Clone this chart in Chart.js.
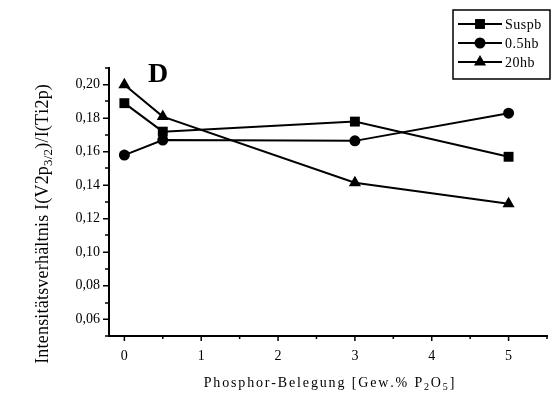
<!DOCTYPE html>
<html>
<head>
<meta charset="utf-8">
<script src="https://cdn.jsdelivr.net/npm/chart.js@4/dist/chart.umd.min.js"></script>
<style>
  html, body { margin: 0; padding: 0; background: #fff; }
  canvas { display: block; }
</style>
</head>
<body>
<canvas id="xpsChart" width="554" height="398"></canvas>
<script>
// P2O5 loading (wt.%) and V2p3/2 / Ti2p intensity ratios
const loadings = [0, 0.5, 3, 5];
const suspb = [0.189, 0.172, 0.178, 0.157];
const hb05 = [0.158, 0.167, 0.1665, 0.183];
const hb20 = [0.200, 0.181, 0.1415, 0.129];
const seriesNames = ['Suspb', '0.5hb', '20hb'];
const xTicks = [0, 1, 2, 3, 4, 5];
const yTicks = [0.06, 0.08, 0.10, 0.12, 0.14, 0.16, 0.18, 0.20];

const SERIF = '"Liberation Serif", "Times New Roman", serif';
const markerStyles = ['rect', 'circle', 'triangle'];
const markerRadius = [7, 5.5, 7];

function toPoints(values) {
  return loadings.map((x, i) => ({ x: x, y: values[i] }));
}

// draw a string made of normal and subscript pieces, centred on x
function drawRich(ctx, parts, x, y, size, spacing) {
  const pieces = parts.map(p => {
    const fs = p.sub ? Math.round(size * 0.7) : size;
    ctx.font = fs + 'px ' + SERIF;
    let w = 0;
    for (const ch of p.t) w += ctx.measureText(ch).width + spacing;
    return { t: p.t, fs: fs, w: w, dy: p.sub ? size * 0.32 : 0 };
  });
  const total = pieces.reduce((s, p) => s + p.w, 0) - spacing;
  let cx = x - total / 2;
  ctx.textAlign = 'left';
  ctx.textBaseline = 'middle';
  pieces.forEach(p => {
    ctx.font = p.fs + 'px ' + SERIF;
    for (const ch of p.t) {
      ctx.fillText(ch, cx, y + p.dy);
      cx += ctx.measureText(ch).width + spacing;
    }
  });
}

function drawMarker(ctx, style, r, x, y) {
  ctx.beginPath();
  if (style === 'rect') {
    const s = r * Math.SQRT1_2;
    ctx.rect(x - s, y - s, 2 * s, 2 * s);
  } else if (style === 'circle') {
    ctx.arc(x, y, r, 0, Math.PI * 2);
  } else {
    ctx.moveTo(x, y - r);
    ctx.lineTo(x + r * Math.sin(Math.PI * 2 / 3), y + r * 0.5);
    ctx.lineTo(x - r * Math.sin(Math.PI * 2 / 3), y + r * 0.5);
    ctx.closePath();
  }
  ctx.fill();
}

// major and minor tick marks pointing outwards on both axes
const tickMarks = {
  id: 'tickMarks',
  afterDraw(chart) {
    const ctx = chart.ctx;
    const xs = chart.scales.x, ys = chart.scales.y;
    ctx.save();
    ctx.strokeStyle = '#000';
    ctx.lineWidth = 1.5;
    ctx.beginPath();
    yTicks.forEach(v => {
      const py = ys.getPixelForValue(v);
      ctx.moveTo(xs.left - 6, py); ctx.lineTo(xs.left, py);
    });
    const yStep = yTicks[1] - yTicks[0];
    for (let v = yTicks[0] - yStep / 2; v <= ys.max + 1e-9; v += yStep) {
      const py = Math.round(ys.getPixelForValue(v));
      ctx.moveTo(xs.left - 4, py); ctx.lineTo(xs.left, py);
    }
    xTicks.forEach(v => {
      const px = xs.getPixelForValue(v);
      ctx.moveTo(px, ys.bottom); ctx.lineTo(px, ys.bottom + 5);
    });
    const xStep = xTicks[1] - xTicks[0];
    for (let v = xTicks[0] + xStep / 2; v <= xs.max + 1e-9; v += xStep) {
      const px = xs.getPixelForValue(v);
      ctx.moveTo(px, ys.bottom); ctx.lineTo(px, ys.bottom + 3);
    }
    ctx.stroke();
    ctx.restore();
  }
};

// axis titles with subscripts, panel letter and boxed legend
const decorations = {
  id: 'decorations',
  afterDraw(chart) {
    const ctx = chart.ctx;
    const area = chart.chartArea;
    ctx.save();
    ctx.fillStyle = '#000';

    drawRich(ctx, [
      { t: 'Phosphor-Belegung [Gew.% P' }, { t: '2', sub: true },
      { t: 'O' }, { t: '5', sub: true }, { t: ']' }
    ], (area.left + area.right) / 2 + 1, 383, 14, 1.85);

    ctx.save();
    ctx.translate(43, 224);
    ctx.rotate(-Math.PI / 2);
    drawRich(ctx, [
      { t: 'Intensitätsverhältnis I(V2p' }, { t: '3/2', sub: true },
      { t: ')/I(Ti2p)' }
    ], 0, 0, 18, 0.2);
    ctx.restore();

    ctx.font = 'bold 28px ' + SERIF;
    ctx.textAlign = 'left';
    ctx.textBaseline = 'alphabetic';
    ctx.fillText('D', 148, 82);

    // legend
    ctx.strokeStyle = '#000';
    ctx.lineWidth = 1.5;
    ctx.strokeRect(453, 10, 97, 69);
    seriesNames.forEach((name, i) => {
      const y = 24 + i * 19;
      ctx.lineWidth = 2;
      ctx.beginPath();
      ctx.moveTo(458, y); ctx.lineTo(502, y);
      ctx.stroke();
      drawMarker(ctx, markerStyles[i], markerRadius[i], 480, y);
      ctx.font = '14px ' + SERIF;
      ctx.textBaseline = 'middle';
      let cx = 505;
      for (const ch of name) {
        ctx.fillText(ch, cx, y + 1);
        cx += ctx.measureText(ch).width + 0.5;
      }
    });
    ctx.restore();
  }
};

function makeSet(label, values, i) {
  return {
    label: label,
    data: toPoints(values),
    showLine: true,
    borderColor: '#000',
    borderWidth: 2,
    backgroundColor: '#000',
    pointBackgroundColor: '#000',
    pointBorderColor: '#000',
    pointBorderWidth: 0,
    pointStyle: markerStyles[i],
    pointRadius: markerRadius[i],
    tension: 0,
    clip: false
  };
}

const ctx = document.getElementById('xpsChart').getContext('2d');
const xpsChart = new Chart(ctx, {
  type: 'scatter',
  data: {
    datasets: [
      makeSet(seriesNames[0], suspb, 0),
      makeSet(seriesNames[1], hb05, 1),
      makeSet(seriesNames[2], hb20, 2)
    ]
  },
  options: {
    responsive: false,
    animation: false,
    devicePixelRatio: 1,
    layout: { padding: { top: 68, left: 0, right: 0, bottom: 0 } },
    plugins: { legend: { display: false }, tooltip: { enabled: false } },
    scales: {
      x: {
        type: 'linear',
        min: -0.2,
        max: 5.5,
        afterBuildTicks: s => { s.ticks = xTicks.map(v => ({ value: v })); },
        afterFit: s => { s.height = 62; },
        grid: { display: false, drawTicks: false },
        border: { display: true, width: 2, color: '#000' },
        ticks: {
          padding: 12,
          color: '#000',
          font: { family: SERIF, size: 14 },
          maxRotation: 0
        }
      },
      y: {
        type: 'linear',
        min: 0.05,
        max: 0.21,
        afterBuildTicks: s => { s.ticks = yTicks.map(v => ({ value: v })); },
        afterFit: s => { s.width = 109; },
        grid: { display: false, drawTicks: false },
        border: { display: true, width: 2, color: '#000' },
        ticks: {
          padding: 9,
          color: '#000',
          font: { family: SERIF, size: 14 },
          callback: v => v.toFixed(2).replace('.', ',')
        }
      }
    }
  },
  plugins: [tickMarks, decorations]
});
</script>
</body>
</html>
